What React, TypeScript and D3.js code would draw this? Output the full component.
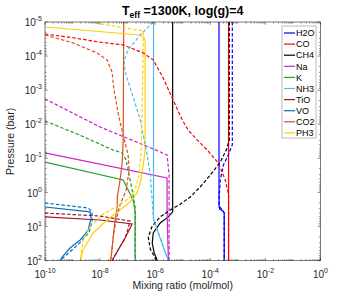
import React from "react";
import * as d3 from "d3";

type Pt = [number, number]; // [mixing ratio (mol/mol), pressure (bar)]

const SPECIES = ["H2O", "CO", "CH4", "Na", "K", "NH3", "TiO", "VO", "CO2", "PH3"];
const COLORS = ["#0000ff", "#ff0000", "#000000", "#cc22cc", "#2a9d2a", "#4dbeee", "#a2142f", "#0072bd", "#d95319", "#ffd200"];

// solid profiles
const H2O_SOLID: Pt[] = [[2.07e-4, 1e-5], [2.07e-4, 2.5], [2.2e-4, 3.05], [2.9e-4, 3.5], [3.2e-4, 4.0], [3.2e-4, 100]];
const CO_SOLID: Pt[] = [[4.6e-4, 1e-5], [4.6e-4, 100]];
const CH4_SOLID: Pt[] = [[4.3e-6, 1e-5], [4.3e-6, 3.7], [3.0e-6, 5.2], [1.52e-6, 7.8], [8.5e-7, 15.4], [7.8e-7, 30.3], [9.2e-7, 59], [1.2e-6, 100]];
const NA_SOLID: Pt[] = [[1e-10, 6.9e-2], [2.7e-6, 0.376], [2.7e-6, 3.26], [3.0e-6, 100]];
const K_SOLID: Pt[] = [[1e-10, 0.128], [6.9e-8, 0.43], [9.6e-8, 0.74], [1.58e-7, 1.66], [1.87e-7, 3.7], [1.87e-7, 100]];
const NH3_SOLID: Pt[] = [[8.7e-7, 1e-5], [8.7e-7, 6.4], [3.0e-6, 100]];
const TIO_SOLID: Pt[] = [[1e-10, 5.2], [1e-8, 6.4], [1.46e-7, 8.4], [8.1e-8, 21.6], [4.5e-8, 48.5], [2.7e-8, 100]];
const VO_SOLID: Pt[] = [[1e-10, 2.66], [4.3e-9, 3.7], [4.7e-9, 5.6], [3.7e-9, 12.6], [1.9e-9, 24.7], [8.1e-10, 42.5], [4.2e-10, 78], [3.5e-10, 100]];
const CO2_SOLID: Pt[] = [[7.2e-8, 1e-5], [6.9e-8, 2.9e-2], [6.3e-8, 0.136], [5.3e-8, 0.43], [4.2e-8, 1.36], [4.2e-8, 2.66], [3.5e-8, 6.4], [3.0e-8, 20.2], [2.5e-8, 83], [2.3e-8, 100]];
const PH3_SOLID: Pt[] = [[1e-10, 1.4e-5], [2.85e-7, 2.4e-5], [4.0e-7, 2.9e-5], [4.3e-7, 3.9e-5], [4.3e-7, 5.7e-2], [3.7e-7, 0.156], [2.85e-7, 0.53], [2.2e-7, 1.03], [1.23e-7, 1.9], [5.3e-8, 3.26], [1.8e-8, 6.4], [5.6e-9, 15.4], [2.4e-9, 48.5], [1.9e-9, 100]];

// dashed profiles
const H2O_DASHED: Pt[] = [[6.3e-4, 1e-5], [6.3e-4, 4.0e-2], [4.5e-4, 7.9e-2], [3.0e-4, 0.156], [2.3e-4, 0.43], [2.1e-4, 1.36], [2.1e-4, 2.5], [2.7e-4, 3.26], [3.2e-4, 4.0], [3.2e-4, 100]];
const CO_DASHED: Pt[] = [[1e-10, 2.25e-5], [1.04e-9, 2.9e-5], [1e-8, 3.9e-5], [6.9e-8, 4.7e-5], [3.7e-7, 8.1e-5], [8.5e-7, 1.3e-4], [1.95e-6, 4.4e-4], [4.15e-6, 1.7e-3], [9.6e-6, 7.5e-3], [1.58e-5, 1.47e-2], [3.1e-5, 2.7e-2], [7.8e-5, 5.7e-2], [1.95e-4, 0.136], [3.5e-4, 0.43], [4.6e-4, 1.18], [4.6e-4, 100]];
const CH4_DASHED: Pt[] = [[4.9e-4, 1e-5], [4.9e-4, 2.9e-2], [3.8e-4, 5.7e-2], [2.3e-4, 0.128], [1e-4, 0.307], [4.3e-5, 0.69], [1.87e-5, 1.36], [8.1e-6, 2.2], [3.5e-6, 3.26], [1.52e-6, 5.2], [7.8e-7, 9.6], [5.6e-7, 20.2], [6.6e-7, 45.4], [1e-6, 83], [1.1e-6, 100]];
const NA_DASHED: Pt[] = [[1e-10, 1.8e-3], [1e-8, 1.2e-2], [3.7e-7, 4.0e-2], [2.7e-6, 7.9e-2], [3.2e-6, 0.31], [3.2e-6, 100]];
const K_DASHED: Pt[] = [[1e-10, 8e-3], [1.9e-9, 2.1e-2], [3.0e-8, 5.7e-2], [6.3e-8, 6.9e-2], [8.8e-8, 0.111], [1.13e-7, 0.307], [1.46e-7, 0.85], [1.87e-7, 2.66], [1.87e-7, 100]];
const NH3_DASHED: Pt[] = [[8.5e-7, 1e-5], [2.85e-7, 2.4e-5], [1.04e-7, 6.6e-5], [7.5e-8, 1.3e-4], [8.1e-8, 2.9e-4], [1.23e-7, 8.6e-4], [1.87e-7, 2.4e-3], [2.85e-7, 7.5e-3], [4.0e-7, 2.9e-2], [5.1e-7, 7.9e-2], [6.6e-7, 0.307], [7.8e-7, 1.66], [8.5e-7, 5.6], [3.0e-6, 100]];
const TIO_DASHED: Pt[] = [[1e-10, 4.0], [1e-8, 4.9], [1.23e-7, 6.9], [1.0e-7, 12.6], [8.1e-8, 21.6], [4.5e-8, 48.5], [2.7e-8, 100]];
const VO_DASHED: Pt[] = [[1e-10, 2.03], [3.7e-9, 2.85], [5.1e-9, 3.7], [5.1e-9, 7.3], [4.0e-9, 14.4], [2.0e-9, 28.3], [9.6e-10, 48.5], [4.5e-10, 83], [3.8e-10, 100]];
const CO2_DASHED: Pt[] = [[1e-10, 2.4e-5], [1.04e-9, 4.1e-5], [7.8e-9, 8.1e-5], [1.8e-8, 1.3e-4], [2.7e-8, 2.9e-4], [3.2e-8, 9.9e-4], [4.5e-8, 4.7e-3], [6.9e-8, 2.1e-2], [1.04e-7, 7.9e-2], [1.13e-7, 0.219], [8.8e-8, 0.85], [5.3e-8, 2.3], [3.8e-8, 6.4], [3.0e-8, 20.2], [2.5e-8, 83], [2.3e-8, 100]];
const PH3_DASHED: Pt[] = [[4.3e-9, 1e-5], [3.7e-7, 1.84e-5], [3.7e-7, 3.4e-5], [3.4e-7, 1.9e-3], [3.1e-7, 5.7e-2], [2.6e-7, 0.307], [1.87e-7, 0.85], [1.04e-7, 1.55], [4.2e-8, 2.5], [1.3e-8, 4.3], [4.3e-9, 10.3], [2.4e-9, 24.7], [1.9e-9, 100]];

const SOLID = [H2O_SOLID, CO_SOLID, CH4_SOLID, NA_SOLID, K_SOLID, NH3_SOLID, TIO_SOLID, VO_SOLID, CO2_SOLID, PH3_SOLID];
const DASHED = [H2O_DASHED, CO_DASHED, CH4_DASHED, NA_DASHED, K_DASHED, NH3_DASHED, TIO_DASHED, VO_DASHED, CO2_DASHED, PH3_DASHED];

const X_TICK_EXP = [-10, -8, -6, -4, -2, 0];
const Y_TICK_EXP = [-5, -4, -3, -2, -1, 0, 1, 2];

const W = 354;
const H = 294;
const m = { left: 45, right: 320.5, top: 22, bottom: 260.7 };
const FONT = "'Liberation Sans', Arial, Helvetica, sans-serif";
const AX = "#262626";

const App = () => {
  const x = d3.scaleLog().domain([1e-10, 1]).range([m.left, m.right]);
  const y = d3.scaleLog().domain([1e-5, 1e2]).range([m.top, m.bottom]);

  const line = d3
    .line<Pt>()
    .x(d => x(d[0]))
    .y(d => y(d[1]));

  // minor ticks
  const xMinor: number[] = [];
  for (let e = -10; e < 0; e++) for (let k = 1; k < 10; k++) if (!(k === 1 && X_TICK_EXP.includes(e))) xMinor.push(k * Math.pow(10, e));
  const yMinor: number[] = [];
  for (let e = -5; e < 2; e++) for (let k = 2; k < 10; k++) yMinor.push(k * Math.pow(10, e));

  const tl = 2.8;
  const ml = 1.6;

  return (
    <svg width={W} height={H} style={{ position: "absolute", left: 0, top: 0, background: "#fff" }} fontFamily={FONT}>
      <defs>
        <clipPath id="plotArea">
          <rect x={m.left} y={m.top} width={m.right - m.left} height={m.bottom - m.top} />
        </clipPath>
      </defs>
      <rect x={m.left} y={m.top} width={m.right - m.left} height={m.bottom - m.top} fill="#fff" />

      <g clipPath="url(#plotArea)" fill="none" strokeWidth={1.2}>
        {SOLID.map((d, i) => (
          <path key={"s" + i} d={line(d) || ""} stroke={COLORS[i]} />
        ))}
        {DASHED.map((d, i) => (
          <path key={"d" + i} d={line(d) || ""} stroke={COLORS[i]} strokeDasharray="3.5,2" />
        ))}
      </g>

      {/* ticks */}
      <g stroke={AX} strokeWidth={0.5}>
        {xMinor.map((v, i) => (
          <g key={"xm" + i}>
            <line x1={x(v)} x2={x(v)} y1={m.bottom} y2={m.bottom - ml} />
            <line x1={x(v)} x2={x(v)} y1={m.top} y2={m.top + ml} />
          </g>
        ))}
        {X_TICK_EXP.map(e => (
          <g key={"xt" + e}>
            <line x1={x(Math.pow(10, e))} x2={x(Math.pow(10, e))} y1={m.bottom} y2={m.bottom - tl} />
            <line x1={x(Math.pow(10, e))} x2={x(Math.pow(10, e))} y1={m.top} y2={m.top + tl} />
          </g>
        ))}
        {yMinor.map((v, i) => (
          <g key={"ym" + i}>
            <line y1={y(v)} y2={y(v)} x1={m.left} x2={m.left + ml} />
            <line y1={y(v)} y2={y(v)} x1={m.right} x2={m.right - ml} />
          </g>
        ))}
        {Y_TICK_EXP.map(e => (
          <g key={"yt" + e}>
            <line y1={y(Math.pow(10, e))} y2={y(Math.pow(10, e))} x1={m.left} x2={m.left + tl} />
            <line y1={y(Math.pow(10, e))} y2={y(Math.pow(10, e))} x1={m.right} x2={m.right - tl} />
          </g>
        ))}
      </g>
      <rect x={m.left} y={m.top} width={m.right - m.left} height={m.bottom - m.top} fill="none" stroke={AX} strokeWidth={0.6} />

      {/* tick labels */}
      <g fill={AX} fontSize={10}>
        {X_TICK_EXP.map(e => (
          <text key={"xl" + e} x={x(Math.pow(10, e))} y={m.bottom + 17} textAnchor="middle">
            10<tspan fontSize={7} dy={-5}>{e}</tspan>
          </text>
        ))}
        {Y_TICK_EXP.map(e => (
          <text key={"yl" + e} x={m.left - 3} y={y(Math.pow(10, e)) + 4} textAnchor="end">
            10<tspan fontSize={7} dy={-5}>{e}</tspan>
          </text>
        ))}
      </g>

      <text x={(m.left + m.right) / 2} y={289} textAnchor="middle" fontSize={10.5} fill={AX}>
        Mixing ratio (mol/mol)
      </text>
      <text transform={`translate(14,${(m.top + m.bottom) / 2}) rotate(-90)`} textAnchor="middle" fontSize={10.5} fill={AX}>
        Pressure (bar)
      </text>
      <text x={(m.left + m.right) / 2} y={15} textAnchor="middle" fontSize={12.5} fontWeight="bold" fill="#000">
        T<tspan fontSize={8.5} dy={3}>eff</tspan>
        <tspan dy={-3}> =1300K, log(g)=4</tspan>
      </text>

      {/* legend */}
      <g>
        <rect x={282} y={26} width={34} height={112} fill="#fff" stroke="#8c8c8c" strokeWidth={0.6} />
        {SPECIES.map((s, i) => {
          const ly = 33 + i * 11.1;
          return (
            <g key={s}>
              <line x1={284} x2={295} y1={ly} y2={ly} stroke={COLORS[i]} strokeWidth={1.2} />
              <text x={296} y={ly + 3.2} fontSize={9} fill="#000">
                {s}
              </text>
            </g>
          );
        })}
      </g>
    </svg>
  );
};

export default App;
